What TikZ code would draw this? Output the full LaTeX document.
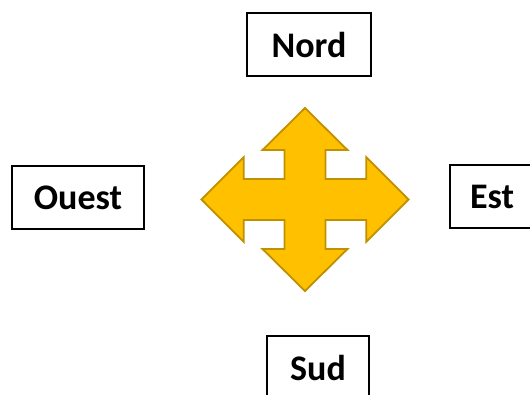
\documentclass[tikz,border=0pt]{standalone}
\usepackage{fontspec}
\setmainfont{Carlito}
\definecolor{jaune}{HTML}{FFC000}
\definecolor{orfonce}{HTML}{BF9000}
\begin{document}
\begin{tikzpicture}[x=1pt, y=-1pt]
 \tikzset{boite/.style={draw, line width=1.6pt, minimum height=63pt, inner sep=0pt, font=\fontsize{36}{43}\selectfont\bfseries}}
 \tikzset{fleche/.style={fill=jaune, draw=orfonce, line width=1.8pt, line join=miter}}
  \useasboundingbox (0,0) rectangle (530,394);
  \node[boite, minimum width=124pt] (Nord) at (309,44.5) {Nord};
  \node[boite, minimum width=132pt] (Ouest) at (78,197.5) {Ouest};
  \node[boite, minimum width=84pt] (Est) at (492,196.5) {Est};
  \node[boite, minimum width=102pt] (Sud) at (318,367.5) {Sud};
  \draw[fleche, shift={(305,199.5)}] (0,-91.5) -- (42.5,-49.5) -- (20.5,-49.5) -- (20.5,-20.5)
    -- (61.2,-20.5) -- (61.2,-42.5) -- (103.5,0) -- (61.2,42.5) -- (61.2,20.5)
    -- (20.5,20.5) -- (20.5,49.5) -- (42.5,49.5) -- (0,91.5) -- (-42.5,49.5)
    -- (-20.5,49.5) -- (-20.5,20.5) -- (-61.2,20.5) -- (-61.2,42.5) -- (-103.5,0)
    -- (-61.2,-42.5) -- (-61.2,-20.5) -- (-20.5,-20.5) -- (-20.5,-49.5) -- (-42.5,-49.5) -- cycle;
\end{tikzpicture}
\end{document}
